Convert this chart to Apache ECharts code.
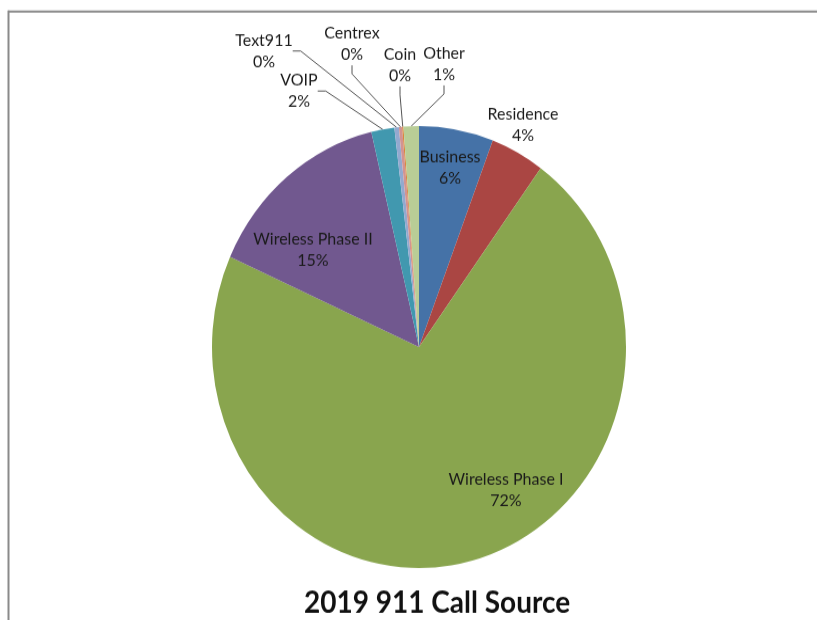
<!DOCTYPE html>
<html><head><meta charset="utf-8">
<script src="https://cdn.jsdelivr.net/npm/echarts@6/dist/echarts.min.js"></script>
<style>
html,body{margin:0;padding:0;background:#fff;overflow:hidden}
#c{width:817px;height:620px;transform:scaleY(1.0676);transform-origin:0 347px;}
</style></head><body><div id="c"></div>
<script>
const categories = ['Business','Residence','Wireless Phase I','Wireless Phase II','VOIP','Text911','Centrex','Coin','Other'];
const values = [5.8, 4.2, 71.7, 14.6, 1.8, 0.35, 0.25, 0.1, 1.2];
const titleText = '2019 911 Call Source';

const palette = ['#4572A7','#AA4643','#89A54E','#71588F','#4198AF','#93A9CF','#D19392','#DB843D','#B9CD96'];
const noLineSet = new Set(['Business','Residence','Wireless Phase I','Wireless Phase II']);
const SY = 1.0676, CY = 347;
const fy = y => CY + (y - CY) / SY; // final-pixel y -> chart y
const labelPos = {
  'Business': [450, 168],
  'Residence': [523, 125],
  'Wireless Phase I': [506, 490],
  'Wireless Phase II': [313, 250],
  'VOIP': [299, 91],
  'Text911': [264, 51],
  'Centrex': [352, 44],
  'Coin': [400, 65],
  'Other': [444, 64]
};

const chart = echarts.init(document.getElementById('c'));
chart.setOption({
  animation: false,
  color: palette,
  title: {
    text: titleText, left: 299, top: fy(601) - 17,
    textStyle: {fontFamily: 'Lato', fontWeight: 'bold', fontSize: 28, color: '#111'}
  },
  graphic: [
    {type: 'line', shape: {x1: 8, y1: fy(11.5), x2: 817, y2: fy(11.5)}, style: {stroke: '#8a8a8a', lineWidth: 2}},
    {type: 'line', shape: {x1: 8.5, y1: fy(10.5), x2: 8.5, y2: 700}, style: {stroke: '#8a8a8a', lineWidth: 2}}
  ],
  series: [{
    type: 'pie',
    center: [419, CY],
    radius: 207,
    startAngle: 90,
    clockwise: true,
    avoidLabelOverlap: false,
    itemStyle: {borderWidth: 0},
    label: {
      show: true, position: 'outside',
      fontFamily: 'Lato', fontSize: 16, lineHeight: 20, color: '#1a1a1a', align: 'center',
      formatter: p => p.name + '\n' + Math.round(p.percent) + '%'
    },
    labelLine: {show: true, length: 10, length2: 8, lineStyle: {color: '#555', width: 1}},
    labelLayout: function (params) {
      const name = categories[params.dataIndex];
      const pos = labelPos[name];
      return {x: pos[0], y: fy(pos[1]), align: 'center', verticalAlign: 'middle'};
    },
    emphasis: {disabled: true},
    data: categories.map((n, i) => ({
      name: n, value: values[i],
      labelLine: {show: !noLineSet.has(n)}
    }))
  }]
});
</script></body></html>
